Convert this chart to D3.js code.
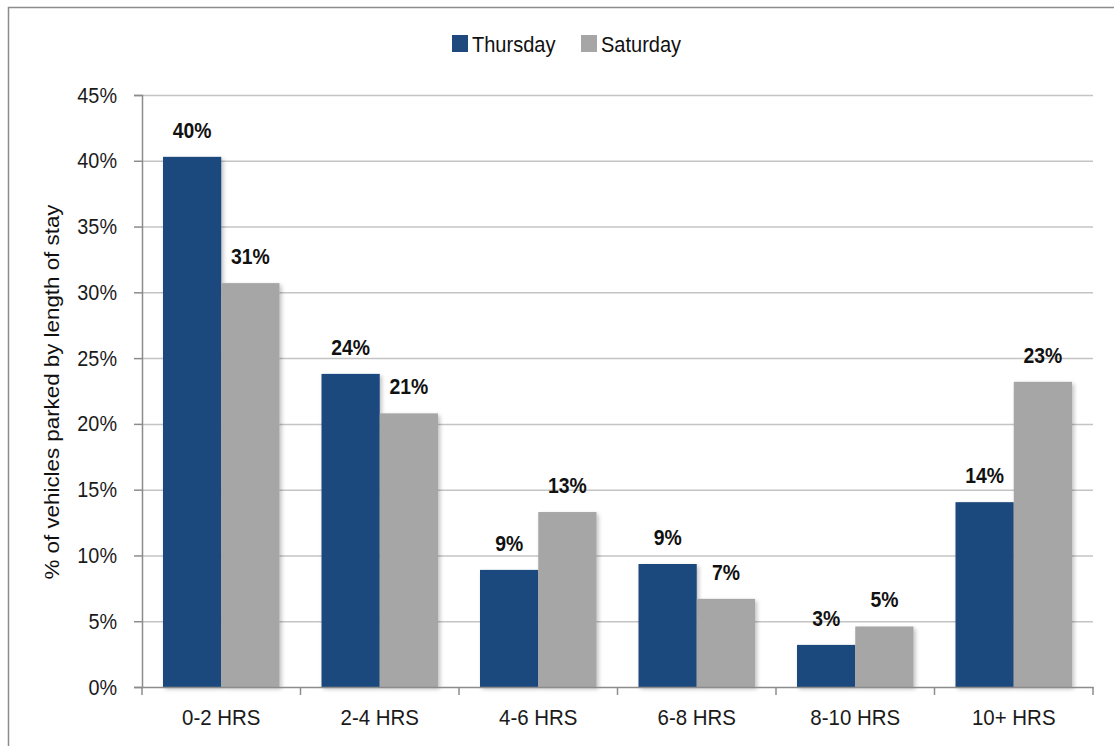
<!DOCTYPE html>
<html>
<head>
<meta charset="utf-8">
<script src="https://cdn.jsdelivr.net/npm/d3@7"></script>
<style>
  html, body { margin: 0; padding: 0; background: #fff; }
  svg { display: block; }
</style>
</head>
<body>
<svg id="chart" width="1114" height="746"></svg>
<script>
// Share of parked vehicles by length of stay, Thursday vs Saturday
const categories = ["0-2 HRS", "2-4 HRS", "4-6 HRS", "6-8 HRS", "8-10 HRS", "10+ HRS"];
const seriesNames = ["Thursday", "Saturday"];
const thursday = [0.403, 0.238, 0.089, 0.0935, 0.032, 0.1405];
const saturday = [0.307, 0.208, 0.133, 0.067, 0.046, 0.232];
const yTicks = [0, 0.05, 0.10, 0.15, 0.20, 0.25, 0.30, 0.35, 0.40, 0.45];
const colors = ["#1f497d", "#a6a6a6"];

(function () {
const sans = "'Liberation Sans', Arial, sans-serif";
const svg = d3.select("#chart");

// squeeze text horizontally to get a narrow face
function narrow(sel, factor) {
  sel.each(function () {
    const w = this.getComputedTextLength();
    d3.select(this).attr("textLength", w * factor).attr("lengthAdjust", "spacingAndGlyphs");
  });
}

// outer frame
svg.append("path")
  .attr("d", "M8.5,760 L8.5,7.5 L1120,7.5")
  .attr("fill", "none").attr("stroke", "#8c8c8c").attr("stroke-width", 1.5);

const plotLeft = 142, plotRight = 1093, plotTop = 95, plotBottom = 687;

const x0 = d3.scaleBand().domain(categories).range([plotLeft, plotRight]).paddingInner(0.265).paddingOuter(0.1325);
const x1 = d3.scaleBand().domain(seriesNames).range([0, x0.bandwidth()]);
const y = d3.scaleLinear().domain([0, 0.45]).range([plotBottom, plotTop]);

// drop shadow for bars
const defs = svg.append("defs");
const f = defs.append("filter").attr("id", "shadow").attr("x", "-10%").attr("y", "-10%").attr("width", "130%").attr("height", "130%");
f.append("feGaussianBlur").attr("in", "SourceAlpha").attr("stdDeviation", 2);
f.append("feOffset").attr("dx", 2).attr("dy", 2).attr("result", "b");
f.append("feComponentTransfer").append("feFuncA").attr("type", "linear").attr("slope", 0.25);
const m = f.append("feMerge");
m.append("feMergeNode");
m.append("feMergeNode").attr("in", "SourceGraphic");

// gridlines
svg.append("g")
  .selectAll("line").data(yTicks.filter(t => t > 0)).join("line")
  .attr("x1", plotLeft).attr("x2", plotRight)
  .attr("y1", d => y(d) + 0.5).attr("y2", d => y(d) + 0.5)
  .attr("stroke", "#c4c4c4").attr("stroke-width", 1.5);

// y axis
const yAxis = svg.append("g").attr("transform", `translate(${plotLeft},0)`)
  .call(d3.axisLeft(y).tickValues(yTicks).tickFormat(d3.format(".0%")).tickSize(8).tickPadding(17));
yAxis.select(".domain").attr("stroke", "#8c8c8c").attr("stroke-width", 1.5);
yAxis.selectAll(".tick line").attr("stroke", "#8c8c8c").attr("stroke-width", 1.5);
yAxis.selectAll("text").attr("font-family", sans).attr("font-size", 22).attr("fill", "#1a1a1a")
  .call(narrow, 0.9);

// bars
const data = categories.map((c, i) => ({ cat: c, vals: [thursday[i], saturday[i]] }));
const groups = svg.append("g").selectAll("g").data(data).join("g")
  .attr("transform", d => `translate(${x0(d.cat)},0)`);

groups.selectAll("rect").data(d => d.vals.map((v, j) => ({ name: seriesNames[j], v, j }))).join("rect")
  .attr("x", d => x1(d.name))
  .attr("y", d => y(d.v))
  .attr("width", x1.bandwidth())
  .attr("height", d => y(0) - y(d.v))
  .attr("fill", d => colors[d.j])
  .attr("filter", "url(#shadow)");

groups.selectAll("text").data(d => d.vals.map((v, j) => ({ name: seriesNames[j], v, j }))).join("text")
  .attr("x", d => x1(d.name) + x1.bandwidth() / 2)
  .attr("y", d => y(d.v) - 19)
  .attr("text-anchor", "middle")
  .attr("font-family", sans).attr("font-weight", "bold").attr("font-size", 22)
  .attr("fill", "#111")
  .text(d => d3.format(".0%")(d.v))
  .call(narrow, 0.88);

// x axis
const xAxis = svg.append("g").attr("transform", `translate(0,${plotBottom})`)
  .call(d3.axisBottom(x0).tickSize(0).tickPadding(22).tickSizeOuter(0));
xAxis.select(".domain").attr("stroke", "#8c8c8c").attr("stroke-width", 1.5);
xAxis.selectAll("text").attr("font-family", sans).attr("font-size", 22).attr("fill", "#1a1a1a")
  .call(narrow, 0.93);
// category boundary ticks
const bounds = d3.range(categories.length + 1).map(i => plotLeft + i * (plotRight - plotLeft) / categories.length);
xAxis.append("g").selectAll("line").data(bounds).join("line")
  .attr("x1", d => d).attr("x2", d => d).attr("y1", 0).attr("y2", 8)
  .attr("stroke", "#8c8c8c").attr("stroke-width", 1.5);

// y axis title
svg.append("text")
  .attr("transform", "translate(59,392) rotate(-90)")
  .attr("text-anchor", "middle")
  .attr("font-family", sans)
  .attr("font-size", 21).attr("fill", "#111")
  .attr("textLength", 375).attr("lengthAdjust", "spacingAndGlyphs")
  .text("% of vehicles parked by length of stay");

// legend
const legend = svg.append("g").attr("transform", "translate(452,35)");
const lx = [0, 129];
seriesNames.forEach((n, i) => {
  legend.append("rect").attr("x", lx[i]).attr("y", 0).attr("width", 16).attr("height", 17).attr("fill", colors[i]);
  legend.append("text").attr("x", lx[i] + 20).attr("y", 16.5)
    .attr("font-family", sans).attr("font-size", 22).attr("fill", "#111").text(n)
    .call(narrow, 0.91);
});
})();
</script>
</body>
</html>
